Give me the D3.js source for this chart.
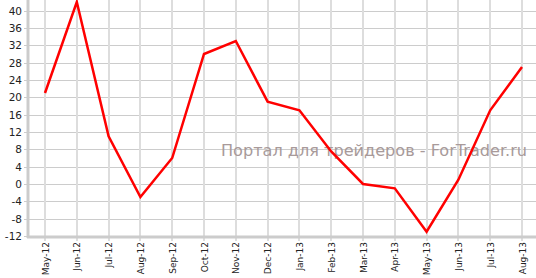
<!DOCTYPE html>
<html><head><meta charset="utf-8">
<script src="https://cdn.jsdelivr.net/npm/d3@7"></script>
<style>html,body{margin:0;padding:0;background:#fff;}svg{display:block;}</style>
</head><body>
<svg id="c" width="536" height="278"></svg>
<script>
const categories = ["May-12","Jun-12","Jul-12","Aug-12","Sep-12","Oct-12","Nov-12","Dec-12","Jan-13","Feb-13","Mar-13","Apr-13","May-13","Jun-13","Jul-13","Aug-13"];
const values = [21, 42, 11, -3, 6, 30, 33, 19, 17, 7.5, 0, -1, -11, 1, 17, 27];
const yTicks = [-12,-8,-4,0,4,8,12,16,20,24,28,32,36,40];
const watermark = "Портал для трейдеров - ForTrader.ru";

const svg = d3.select("#c");
const axisX = 28, axisY = 237;
const x = d3.scalePoint().domain(categories).range([45, 522]);
const y = d3.scaleLinear().domain([-12, 42.46]).range([236, 0]);

// horizontal grid
svg.append("g").selectAll("line").data(yTicks).join("line")
  .attr("x1", axisX - 4).attr("x2", 536)
  .attr("y1", d => Math.round(y(d)) + 0.5).attr("y2", d => Math.round(y(d)) + 0.5)
  .attr("stroke", "#cccccc").attr("stroke-width", 1);
// vertical grid
svg.append("g").selectAll("line").data(categories).join("line")
  .attr("x1", d => Math.round(x(d))).attr("x2", d => Math.round(x(d)))
  .attr("y1", 0).attr("y2", axisY + 4)
  .attr("stroke", "#dddddd").attr("stroke-width", 2);

// axes lines
svg.append("line").attr("x1", axisX).attr("x2", axisX).attr("y1", 0).attr("y2", axisY + 1)
  .attr("stroke", "#cccccc").attr("stroke-width", 3);
svg.append("line").attr("x1", axisX - 1).attr("x2", 536).attr("y1", axisY).attr("y2", axisY)
  .attr("stroke", "#cccccc").attr("stroke-width", 3);

// y labels
svg.append("g").selectAll("text").data(yTicks).join("text")
  .attr("x", 22).attr("y", d => y(d) + 4)
  .attr("text-anchor", "end")
  .attr("font-family", "DejaVu Sans, Verdana, sans-serif").attr("font-size", 10.5)
  .attr("fill", "#222").text(d => d);

// x labels
svg.append("g").selectAll("text").data(categories).join("text")
  .attr("transform", d => `translate(${x(d) + 3.5},${axisY + 5}) rotate(-90)`)
  .attr("text-anchor", "end")
  .attr("font-family", "DejaVu Sans, Verdana, sans-serif").attr("font-size", 9)
  .attr("fill", "#222").text(d => d);

// watermark
svg.append("text").attr("x", 221).attr("y", 156)
  .attr("font-family", "DejaVu Sans, Verdana, sans-serif").attr("font-size", 15.5)
  .attr("fill", "#a89a9a").attr("textLength", 306).attr("lengthAdjust", "spacingAndGlyphs")
  .text(watermark);

// line
const line = d3.line().x((d, i) => x(categories[i])).y(d => y(d));
svg.append("path").datum(values).attr("d", line)
  .attr("fill", "none").attr("stroke", "#ff0000").attr("stroke-width", 2.5)
  .attr("stroke-linejoin", "miter");
</script>
</body></html>
